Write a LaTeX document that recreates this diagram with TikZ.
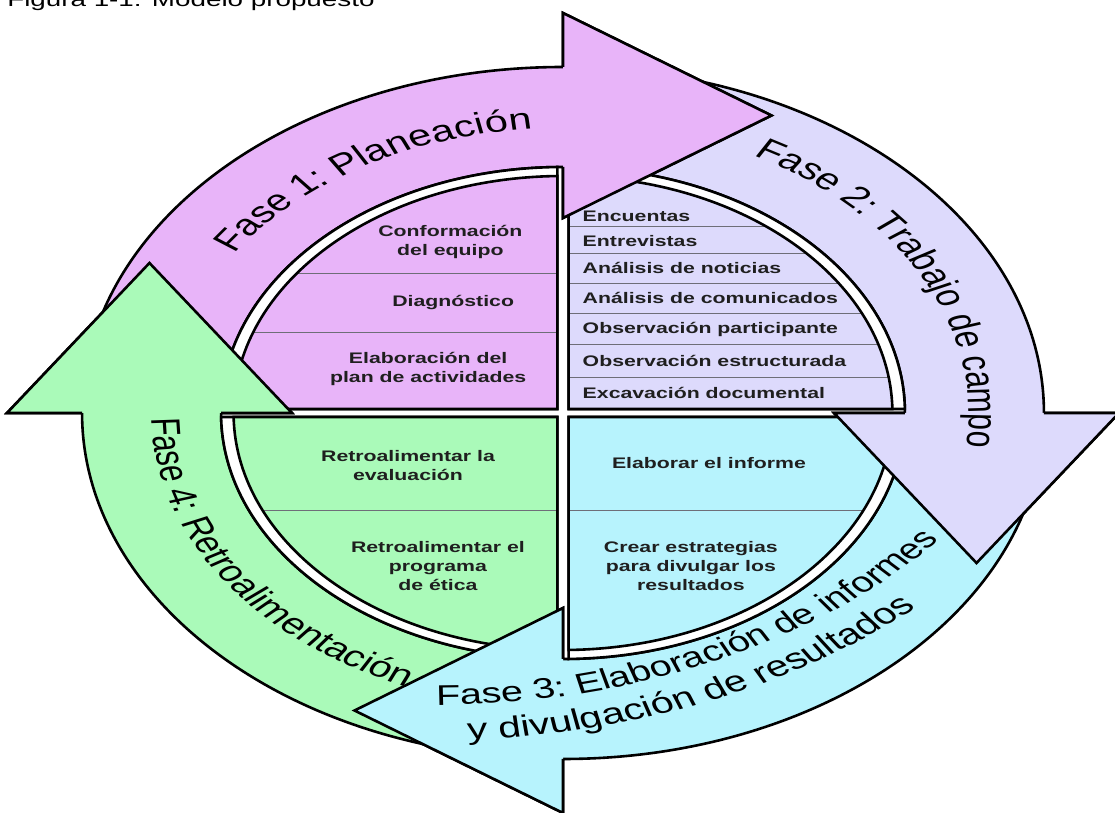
\documentclass[tikz,border=0pt]{standalone}
\usepackage{fontspec}
\setmainfont{Liberation Sans}
\usetikzlibrary{calc}
\definecolor{cPur}{RGB}{232,180,249}
\definecolor{cLav}{RGB}{221,218,252}
\definecolor{cCya}{RGB}{183,243,253}
\definecolor{cGre}{RGB}{170,250,185}
\definecolor{rowln}{RGB}{110,110,120}
\newdimen\arcw
\newsavebox\arcbox
\makeatletter
\newcommand\arctext[7]{%
  \gdef\arc@cum{0}%
  \foreach \ch in {#7}{%
    \path node[inner sep=0pt,outer sep=0pt] {\sbox\arcbox{#6\ch}\global\arcw=\wd\arcbox};%
    \edef\arc@w{\strip@pt\arcw}%
    \pgfmathsetmacro\arc@mid{#4+(#5)*(\arc@cum+0.5*\arc@w)/(#3)*57.29578}%
    \pgfmathsetmacro\arc@rot{\arc@mid+(#5)*90}%
    \node[anchor=base,inner sep=0pt,outer sep=0pt,rotate=\arc@rot,transform shape]
      at ($(#1,#2)+(\arc@mid:#3)$) {#6\ch};%
    \pgfmathsetmacro\arc@new{\arc@cum+\arc@w}%
    \xdef\arc@cum{\arc@new}%
  }%
}
\makeatother
\newcommand\fsA{\fontsize{30}{36}\selectfont}
\newcommand\fsB{\fontsize{30}{36}\selectfont}
\newcommand\fsC{\fontsize{28.5}{34}\selectfont}
\newcommand\fsE{\fontsize{29.5}{35}\selectfont}
\newcommand\fsD{\fontsize{29.5}{35}\selectfont}
\newcommand\ringarrow[3]{%
  \draw[outl,fill=#1] (#2:346) arc[start angle=#2,end angle=#3,radius=346]
    -- (#3:400) -- ($(#3:297.5)+({#3-90}:150)$) -- (#3:195) -- (#3:246)
    arc[start angle=#3,end angle=#2,radius=246] -- cycle;}
\newcommand\ringhead[2]{%
  \fill[#1] (#2:400) -- ($(#2:297.5)+({#2-90}:150)$) -- (#2:195) -- cycle;
  \draw[outl] (#2:246) -- (#2:195) -- ($(#2:297.5)+({#2-90}:150)$) -- (#2:400) -- (#2:346);}
\newcommand\pieq[6]{%
  \pgfmathsetmacro\sg{sign(#5-#4)}%
  \pgfmathsetmacro\oa{#4+\sg*0.932}\pgfmathsetmacro\ob{#5-\sg*0.932}%
  \pgfmathsetmacro\ia{#4+\sg*0.967}\pgfmathsetmacro\ib{#5-\sg*0.967}%
  \draw[outl,fill=white] (#2,#3) -- (\oa:246) arc[start angle=\oa,end angle=\ob,radius=246] -- cycle;
  \fill[#1] (#2,#3) -- (\ia:237) arc[start angle=\ia,end angle=\ib,radius=237] -- cycle;
  \begin{scope}
    \clip (#2,#3) -- (\ia:237) arc[start angle=\ia,end angle=\ib,radius=237] -- cycle;
    #6
  \end{scope}
  \draw[outl] (#2,#3) -- (\ia:237) arc[start angle=\ia,end angle=\ib,radius=237] -- cycle;}
\begin{document}
\begin{tikzpicture}[x=1pt,y=1pt,xscale=1.39,
  outl/.style={draw=black,line width=2.6pt},
  rowline/.style={draw=rowln,line width=0.9pt},
  pietext/.style={font=\bfseries\fontsize{15.3}{19}\selectfont,align=center,transform shape,text=black!88,inner sep=1pt},
  rowtext/.style={font=\bfseries\fontsize{15.3}{19}\selectfont,anchor=west,transform shape,text=black!88,inner sep=0pt}]
\useasboundingbox (-405.04,-400) rectangle (397.12,413);
% ring arrows
\ringarrow{cLav}{85}{0}
\ringarrow{cCya}{-5}{-90}
\ringarrow{cGre}{265}{180}
\ringarrow{cPur}{175}{90}
% pie
\pieq{cPur}{-4}{4}{180}{90}{\draw[rowline] (-300,140) -- (0,140) (-300,81) -- (0,81);}
\pieq{cLav}{4}{4}{0}{90}{\draw[rowline] (0,187) -- (300,187) (0,160) -- (300,160) (0,130) -- (300,130) (0,100) -- (300,100) (0,69) -- (300,69) (0,36) -- (300,36);}
\pieq{cCya}{4}{-4}{0}{-90}{\draw[rowline] (0,-97) -- (300,-97);}
\pieq{cGre}{-4}{-4}{180}{270}{\draw[rowline] (-300,-97) -- (0,-97);}
% heads on top
\ringhead{cPur}{90}
\ringhead{cLav}{0}
\ringhead{cCya}{-90}
\ringhead{cGre}{180}
% pie texts
\node[pietext] (conf) at (-81,171) {Conformación\\del equipo};
\node[pietext] (diag) at (-79,110) {Diagnóstico};
\node[pietext] (elab) at (-97,44) {Elaboración del\\plan de actividades};
\node[rowtext] (r1) at (14,197) {Encuentas};
\node[rowtext] (r2) at (14,172) {Entrevistas};
\node[rowtext] (r3) at (14,145) {Análisis de noticias};
\node[rowtext] (r4) at (14,115) {Análisis de comunicados};
\node[rowtext] (r5) at (14,84) {Observación participante};
\node[rowtext] (r6) at (14,52) {Observación estructurada};
\node[rowtext] (r7) at (14,20) {Excavación documental};
\node[pietext] (reval) at (-111.5,-53) {Retroalimentar la\\evaluación};
\node[pietext] (rprog) at (-90,-153) {Retroalimentar el\\programa\\de ética};
\node[pietext] (einf) at (105,-50) {Elaborar el informe};
\node[pietext] (cest) at (92,-153) {Crear estrategias\\para divulgar los\\resultados};
% phase labels
\arctext{0}{0}{285}{146}{-1}{\fsA}{F,a,s,e,~,1,:,~,P,l,a,n,e,a,c,i,ó,n}
\arctext{0}{0}{292}{62}{-1}{\fsB}{F,a,s,e,~,2,:,~,T,r,a,b,a,j,o,~,d,e,~,c,a,m,p,o}
\arctext{0}{0}{296}{181}{1}{\fsD}{F,a,s,e,~,4,:,~,R,e,t,r,o,a,l,i,m,e,n,t,a,c,i,ó,n}
\arctext{-91}{189}{481}{-90}{1}{\fsC}{F,a,s,e,~,3,:,~,E,l,a,b,o,r,a,c,i,ó,n,~,d,e,~,i,n,f,o,r,m,e,s}
\arctext{-91}{189}{516}{-87.5}{1}{\fsE}{y,~,d,i,v,u,l,g,a,c,i,ó,n,~,d,e,~,r,e,s,u,l,t,a,d,o,s}
% caption
\node[anchor=base west,transform shape,font=\fontsize{20}{24}\selectfont,inner sep=0pt] (cap) at (-400,406) {Figura 1-1: Modelo propuesto};
\end{tikzpicture}
\end{document}
